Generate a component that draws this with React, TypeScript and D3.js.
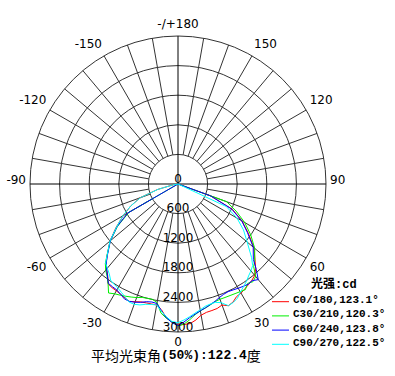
import React from "react";
import * as d3 from "d3";

const angles = [-90, -85, -80, -75, -70, -65, -60, -55, -50, -45,
  -42.5, -40, -37.5, -35, -32.5, -30, -27.5, -25, -22.5, -20, -17.5, -15, -12.5, -10, -7.5, -5, -2.5,
  0,
  2.5, 5, 7.5, 10, 12.5, 15, 17.5, 20, 22.5, 25, 27.5, 30, 32.5, 35, 37.5, 40, 42.5,
  45, 50, 55, 60, 65, 70, 75, 80, 85, 90];

const c0 = [0, 0, 100, 430, 820, 1060, 1280, 1530, 1800, 2030,
  2150, 2250, 2340, 2470, 2490, 2500, 2520, 2545, 2575, 2540, 2505, 2495, 2490, 2490, 2570, 2720, 2800,
  2860,
  2850, 2840, 2780, 2700, 2665, 2655, 2645, 2610, 2670, 2640, 2572, 2555, 2520, 2490, 2460, 2420, 2330,
  2210, 2010, 1740, 1500, 1220, 700, 0, 0, 0, 0];

const c30 = [0, 0, 0, 0, 0, 0, 1150, 1500, 1790, 2030,
  2180, 2280, 2360, 2470, 2620, 2570, 2540, 2510, 2480, 2450, 2410, 2400, 2395, 2440, 2640, 2730, 2800,
  2880,
  2840, 2760, 2670, 2610, 2575, 2535, 2500, 2487, 2490, 2495, 2505, 2520, 2540, 2460, 2496, 2450, 2270,
  2200, 2030, 1800, 1560, 1300, 1050, 0, 0, 0, 0];

const c60 = [0, 0, 0, 0, 0, 0, 1180, 1510, 1790, 2020,
  2150, 2250, 2350, 2460, 2470, 2480, 2520, 2570, 2576, 2550, 2515, 2470, 2450, 2460, 2590, 2720, 2810,
  2870,
  2800, 2720, 2660, 2610, 2570, 2530, 2495, 2450, 2420, 2407, 2420, 2440, 2460, 2480, 2470, 2530, 2350,
  2160, 1990, 1720, 1490, 1200, 700, 0, 0, 0, 0];

const c90 = [0, 0, 110, 420, 810, 1060, 1290, 1520, 1800, 2030,
  2170, 2230, 2290, 2380, 2410, 2436, 2480, 2530, 2590, 2595, 2570, 2525, 2500, 2490, 2600, 2700, 2790,
  2810,
  2760, 2700, 2640, 2590, 2540, 2520, 2515, 2560, 2670, 2650, 2610, 2530, 2470, 2416, 2350, 2300, 2240,
  2110, 1830, 1620, 1380, 1080, 0, 0, 0, 0, 0];

const seriesNames = ["C0/180,123.1°", "C30/210,120.3°", "C60/240,123.8°", "C90/270,122.5°"];
const seriesColors = ["#ff0000", "#00f000", "#0000ff", "#00ffff"];
const seriesValues = [c0, c30, c60, c90];

const ringTicks = [0, 600, 1200, 1800, 2400, 3000];
const angleTicks = [-150, -120, -90, -60, -30, 0, 30, 60, 90, 120, 150, 180];
const angleTickLabels = ["-150", "-120", "-90", "-60", "-30", "0", "30", "60", "90", "120", "150", "-/+180"];
const gridAngles = d3.range(0, 360, 10);

const legendTitle = "光强:cd";
const beamTitle = "平均光束角";
const beamValue = "(50%):122.4";
const beamUnit = "度";

const W = 395, H = 376;
const cx = 178, cy = 184, R = 148;

export default function App() {
  const r = d3.scaleLinear().domain([0, 3000]).range([0, R]);
  const rad = (deg: number) => (deg * Math.PI) / 180;
  const line = d3.lineRadial<number>()
    .angle((_, i) => Math.PI - rad(angles[i]))
    .radius((d) => r(d))
    .curve(d3.curveLinear);

  const labelFont = "'DejaVu Sans', sans-serif";
  const monoFont = "'Liberation Mono', 'Noto Sans CJK SC', monospace";
  const cjkFont = "'Noto Sans CJK SC', sans-serif";

  return (
    <div style={{ position: "fixed", left: 0, top: 0 }}>
      <svg width={W} height={H} style={{ display: "block", background: "#fff" }}>
        <g transform={`translate(${cx},${cy})`}>
          {ringTicks.slice(1).map((t) => (
            <circle key={t} r={r(t)} fill="none" stroke="#333" strokeWidth={1} />
          ))}
          {gridAngles.map((a) => {
            const axis = a % 90 === 0;
            const r0 = axis ? 0 : r(600);
            const s = Math.sin(rad(a)), c = Math.cos(rad(a));
            return (
              <line key={a} x1={r0 * s} y1={r0 * c} x2={R * s} y2={R * c}
                stroke={axis ? "#000" : "#333"} strokeWidth={1} />
            );
          })}
          {seriesValues.map((vals, i) => (
            <path key={i} d={line(vals) || ""} fill="none" stroke={seriesColors[i]} strokeWidth={1} />
          ))}
          {ringTicks.map((t) => (
            <text key={t} x={0} y={r(t) - 5.5} textAnchor="middle" dominantBaseline="central"
              fontFamily={labelFont} fontSize={12} fill="#000">{t}</text>
          ))}
          {angleTicks.map((a, i) => {
            const s = Math.sin(rad(a)), c = Math.cos(rad(a));
            const rl = 152;
            const x = Math.abs(s) < 1e-6 ? 0 : rl * s;
            const dy = c < -1e-6 ? -8 : c > 1e-6 ? (Math.abs(s) < 1e-6 ? 6 : 7) : -4;
            const y = rl * c + dy;
            const anchor = Math.abs(s) < 1e-6 ? "middle" : s > 0 ? "start" : "end";
            return (
              <text key={a} x={x} y={y} textAnchor={anchor} dominantBaseline="central"
                fontFamily={labelFont} fontSize={12} fill="#000">{angleTickLabels[i]}</text>
            );
          })}
        </g>
        <text x={311} y={285} dominantBaseline="central" fontFamily={monoFont} fontSize={12}
          fontWeight="bold" fill="#000">{legendTitle}</text>
        {seriesNames.map((n, i) => {
          const y = 301.7 + i * 14.2;
          return (
            <g key={n}>
              <line x1={272} x2={289} y1={y} y2={y} stroke={seriesColors[i]} strokeWidth={1} />
              <text x={293} y={y - 1.5} dominantBaseline="central" fontFamily={monoFont}
                fontSize={11} fontWeight="bold" fill="#000">{n}</text>
            </g>
          );
        })}
        <text x={91} y={355} dominantBaseline="central" fill="#000">
          <tspan fontFamily={cjkFont} fontSize={14}>{beamTitle}</tspan>
          <tspan fontFamily={monoFont} fontSize={13} fontWeight="bold">{beamValue}</tspan>
          <tspan fontFamily={cjkFont} fontSize={14}>{beamUnit}</tspan>
        </text>
      </svg>
    </div>
  );
}
